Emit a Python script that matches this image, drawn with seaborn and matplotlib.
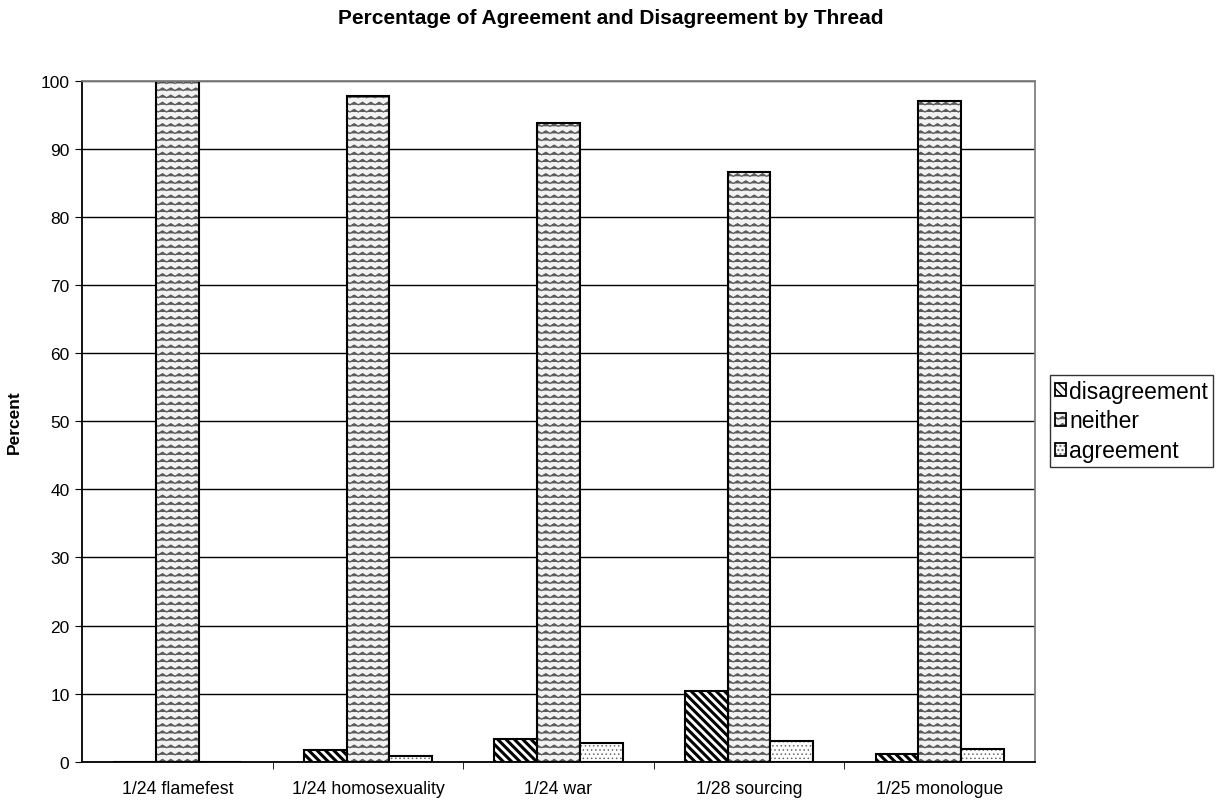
import matplotlib
matplotlib.use("Agg")
import warnings
import numpy as np
import matplotlib.pyplot as plt
from matplotlib import hatch as mhatch
from matplotlib.path import Path
from matplotlib.patches import Patch
import seaborn as sns
import pandas as pd

threads = ["1/24 flamefest", "1/24 homosexuality", "1/24 war", "1/28 sourcing", "1/25 monologue"]
categories = ["disagreement", "neither", "agreement"]
disagreement = [0.0, 1.7, 3.3, 10.4, 1.1]
neither = [100.0, 97.8, 93.9, 86.6, 97.0]
agreement = [0.0, 0.8, 2.8, 3.1, 1.9]

df = pd.DataFrame({
    "thread": threads * 3,
    "kind": [c for c in categories for _ in threads],
    "value": disagreement + neither + agreement,
})


class ZigZagHatch(mhatch.HatchPatternBase):
    """Rows of zigzag lines, selected with the 'z' hatch character."""
    rows_per_char = 14
    periods = 12
    amp = 0.013

    def __init__(self, hatch, density):
        n = hatch.count("z")
        self.num_rows = self.rows_per_char * n
        self.num_vertices = self.num_rows * (2 * self.periods + 1) if n else 0

    def set_vertices_and_codes(self, vertices, codes):
        per_row = 2 * self.periods + 1
        xs = np.linspace(0.0, 1.0, per_row)
        offs = np.where(np.arange(per_row) % 2 == 0, -self.amp, self.amp)
        ys = (np.arange(self.num_rows) + 0.5) / self.num_rows
        for i, y in enumerate(ys):
            sl = slice(i * per_row, (i + 1) * per_row)
            vertices[sl, 0] = xs
            vertices[sl, 1] = y + offs
            codes[sl] = Path.LINETO
            codes[i * per_row] = Path.MOVETO


mhatch._hatch_types.append(ZigZagHatch)
warnings.filterwarnings("ignore")

sns.set_style("white")
plt.rcParams["font.family"] = ["Liberation Sans", "DejaVu Sans"]
for key in ["text.color", "axes.labelcolor", "xtick.color", "ytick.color"]:
    plt.rcParams[key] = "black"

fig = plt.figure(figsize=(12.22, 8.04), dpi=100)
ax = fig.add_axes([82 / 1222, 1 - 762.7 / 804, 953 / 1222, 680.7 / 804])

faces = ["white", "#f2f2f2", "white"]
sns.barplot(data=df, x="thread", y="value", hue="kind", order=threads,
            hue_order=categories, ax=ax, width=0.672, gap=0,
            palette=faces, edgecolor="black",
            linewidth=1.5, saturation=1, legend=False)

hatches = {"disagreement": "\\\\\\\\", "neither": "z", "agreement": "...."}
hatch_colors = {"disagreement": "black", "neither": "#5a5a5a", "agreement": "#6a6a6a"}
hatch_widths = {"disagreement": 2.2, "neither": 0.9, "agreement": 0.6}


def style_patch(p, kind):
    p.set_hatch(hatches[kind])
    p._hatch_color = matplotlib.colors.to_rgba(hatch_colors[kind])
    p._hatch_linewidth = hatch_widths[kind]


for container, kind in zip(ax.containers, categories):
    for bar in container:
        style_patch(bar, kind)

ax.set_ylim(0, 100)
ax.set_yticks(range(0, 101, 10))
ax.set_xlim(-0.5, len(threads) - 0.5)
ax.yaxis.grid(True, color="black", linewidth=1.0)
ax.set_axisbelow(True)
for name, s in ax.spines.items():
    s.set_color("#808080")
    s.set_linewidth(1.3)
ax.spines["bottom"].set_color("black")
ax.spines["left"].set_color("black")
ax.tick_params(axis="y", labelsize=12.5, length=5, direction="out",
               left=True, color="black", pad=4)
ax.set_xticks([i - 0.5 for i in range(1, len(threads))], minor=True)
ax.tick_params(axis="x", which="major", length=0, pad=13, labelsize=12.8)
ax.tick_params(axis="x", which="minor", length=5, color="black", bottom=True)
ax.set_xlabel("")
ax.set_ylabel("Percent", fontsize=12.5, fontweight="bold")
ax.yaxis.set_label_coords(-60 / 953, 0.5)

fig.text(0.5, 1 - 19 / 804, "Percentage of Agreement and Disagreement by Thread",
         fontsize=15, fontweight="bold", ha="center", va="center")

handles = []
for kind in categories:
    h = Patch(facecolor=faces[categories.index(kind)], edgecolor="black", linewidth=1.3)
    style_patch(h, kind)
    handles.append(h)
leg = fig.legend(handles, categories, loc="upper left",
                 bbox_to_anchor=(1050 / 1222, 1 - 376 / 804),
                 frameon=True, fancybox=False, fontsize=16.5,
                 handlelength=0.5, handleheight=0.5, handletextpad=0.15,
                 borderpad=0.2, labelspacing=0.3, borderaxespad=0)
leg.get_frame().set_edgecolor("black")
leg.get_frame().set_linewidth(1.0)

fig.savefig("out.png", dpi=100)
